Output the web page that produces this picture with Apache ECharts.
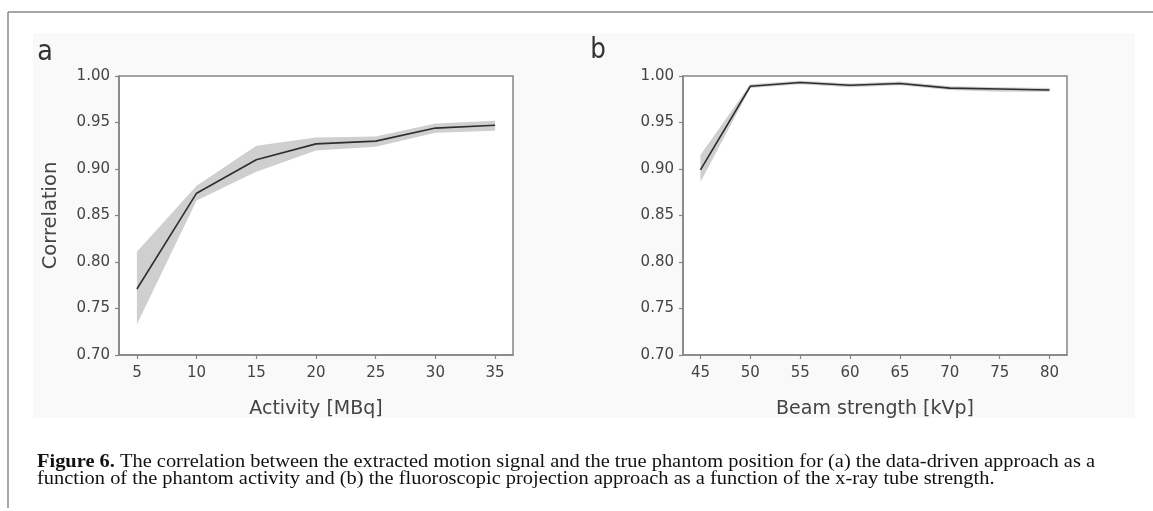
<!DOCTYPE html>
<html>
<head>
<meta charset="utf-8">
<script src="https://cdn.jsdelivr.net/npm/echarts@6/dist/echarts.min.js"></script>
<style>
html,body{margin:0;padding:0;background:#fff;}
#c{width:1153px;height:511px;}
</style>
</head>
<body>
<div id="c"></div>
<script>
// ---- data ----
const activity = [5, 10, 15, 20, 25, 30, 35];
const corrA = [0.771, 0.874, 0.910, 0.927, 0.930, 0.944, 0.947];
const corrALow = [0.733, 0.866, 0.897, 0.920, 0.924, 0.939, 0.941];
const corrAHigh = [0.811, 0.882, 0.925, 0.934, 0.935, 0.949, 0.952];

const beam = [45, 50, 55, 60, 65, 70, 75, 80];
const corrB = [0.899, 0.989, 0.993, 0.990, 0.992, 0.987, 0.986, 0.985];
const corrBLow = [0.886, 0.987, 0.991, 0.988, 0.990, 0.985, 0.983, 0.983];
const corrBHigh = [0.915, 0.991, 0.995, 0.992, 0.994, 0.989, 0.988, 0.987];

const yTicks = [0.70, 0.75, 0.80, 0.85, 0.90, 0.95, 1.00];
const xTicksA = [5, 10, 15, 20, 25, 30, 35];
const xTicksB = [45, 50, 55, 60, 65, 70, 75, 80];

const xTitleA = 'Activity [MBq]';
const xTitleB = 'Beam strength [kVp]';
const yTitle = 'Correlation';
const captionBold = 'Figure 6.';
const captionLine1 = ' The correlation between the extracted motion signal and the true phantom position for (a) the data-driven approach as a';
const captionLine2 = 'function of the phantom activity and (b) the fluoroscopic projection approach as a function of the x-ray tube strength.';

// ---- styling ----
const axisColor = '#858585';
const textColor = '#444';
const lineColor = '#2e2e2e';
const bandColor = '#cfcfcf';
const tickFont = 'DejaVu Sans';

function pairs(xs, ys) { return xs.map((x, i) => [x, ys[i]]); }
function triples(xs, lo, hi) { return xs.map((x, i) => [x, lo[i], hi[i]]); }

// caption scale to fit measured width
const cv = document.createElement('canvas').getContext('2d');
const capSize = 18;
cv.font = 'bold ' + capSize + 'px "Liberation Serif"';
let w1 = cv.measureText(captionBold).width;
cv.font = capSize + 'px "Liberation Serif"';
w1 += cv.measureText(captionLine1).width;
const capScale = 1058 / w1;

function xAxisDef(idx, min, max, ticks, title) {
  return {
    type: 'value', gridIndex: idx, min: min, max: max,
    splitLine: { show: false },
    axisLine: { show: true, onZero: false, lineStyle: { color: axisColor, width: 1.5 } },
    axisTick: { show: true, length: 4, customValues: ticks, lineStyle: { color: axisColor, width: 1.2 } },
    axisLabel: { customValues: ticks, color: textColor, fontFamily: tickFont, fontSize: 15, margin: 11 },
    name: title, nameLocation: 'middle', nameGap: 45,
    nameTextStyle: { color: textColor, fontFamily: tickFont, fontSize: 19 }
  };
}
function yAxisDef(idx, withTitle) {
  return {
    type: 'value', gridIndex: idx, min: 0.7, max: 1.0,
    splitLine: { show: false },
    axisLine: { show: true, onZero: false, lineStyle: { color: axisColor, width: 1.5 } },
    axisTick: { show: true, length: 4, customValues: yTicks, lineStyle: { color: axisColor, width: 1.2 } },
    axisLabel: { customValues: yTicks, color: textColor, fontFamily: tickFont, fontSize: 15, margin: 9,
      formatter: v => v.toFixed(2) },
    name: withTitle ? yTitle : '', nameLocation: 'middle', nameGap: 58,
    nameTextStyle: { color: textColor, fontFamily: tickFont, fontSize: 19.5 }
  };
}

function bandSeries(idx, xs, lo, hi, mean) {
  const data = triples(xs, lo, hi);
  return [
    { type: 'custom', xAxisIndex: idx, yAxisIndex: idx, data: data, silent: true, z: 1,
      encode: { x: 0, y: [1, 2] },
      clip: true,
      renderItem: function (params, api) {
        if (params.dataIndex !== 0) return null;
        const upper = data.map(d => api.coord([d[0], d[2]]));
        const lower = data.map(d => api.coord([d[0], d[1]])).reverse();
        return { type: 'polygon', shape: { points: upper.concat(lower) }, style: { fill: bandColor } };
      }
    },
    { type: 'line', xAxisIndex: idx, yAxisIndex: idx, data: pairs(xs, mean),
      symbol: 'none', lineStyle: { color: lineColor, width: 1.6 }, z: 3 }
  ];
}

const chart = echarts.init(document.getElementById('c'), null, { renderer: 'canvas' });
chart.setOption({
  animation: false,
  backgroundColor: '#fff',
  grid: [
    { left: 119, top: 76, width: 394, height: 279, show: true, borderColor: axisColor, borderWidth: 1.5, backgroundColor: '#fff' },
    { left: 683, top: 76, width: 384, height: 279, show: true, borderColor: axisColor, borderWidth: 1.5, backgroundColor: '#fff' }
  ],
  xAxis: [
    xAxisDef(0, 3.5, 36.5, xTicksA, xTitleA),
    xAxisDef(1, 43.25, 81.75, xTicksB, xTitleB)
  ],
  yAxis: [yAxisDef(0, true), yAxisDef(1, false)],
  series: [].concat(
    bandSeries(0, activity, corrALow, corrAHigh, corrA),
    bandSeries(1, beam, corrBLow, corrBHigh, corrB)
  ),
  graphic: [
    { type: 'rect', z: -10, silent: true, shape: { x: 33, y: 33, width: 1102, height: 385 }, style: { fill: '#f9f9f9' } },
    { type: 'line', z: 5, shape: { x1: 8, y1: 12, x2: 1153, y2: 12 }, style: { stroke: '#8a8a8a', lineWidth: 1.5 } },
    { type: 'line', z: 5, shape: { x1: 8, y1: 12, x2: 8, y2: 508 }, style: { stroke: '#8a8a8a', lineWidth: 1.5 } },
    { type: 'text', x: 45, y: 52, scaleX: 0.88, style: { text: 'a', fontFamily: tickFont, fontSize: 29, fill: '#333', verticalAlign: 'middle', align: 'center' } },
    { type: 'text', x: 598, y: 50, scaleX: 0.85, style: { text: 'b', fontFamily: tickFont, fontSize: 29, fill: '#333', verticalAlign: 'middle', align: 'center' } },
    { type: 'text', x: 37, y: 462, scaleX: capScale, style: {
        text: '{b|' + captionBold + '}' + captionLine1, fontFamily: 'Liberation Serif', fontSize: capSize, fill: '#111',
        verticalAlign: 'middle', rich: { b: { fontWeight: 'bold', fontFamily: 'Liberation Serif', fontSize: capSize, fill: '#111' } } } },
    { type: 'text', x: 37, y: 479, scaleX: capScale, style: {
        text: captionLine2, fontFamily: 'Liberation Serif', fontSize: capSize, fill: '#111', verticalAlign: 'middle' } }
  ]
});
</script>
</body>
</html>
